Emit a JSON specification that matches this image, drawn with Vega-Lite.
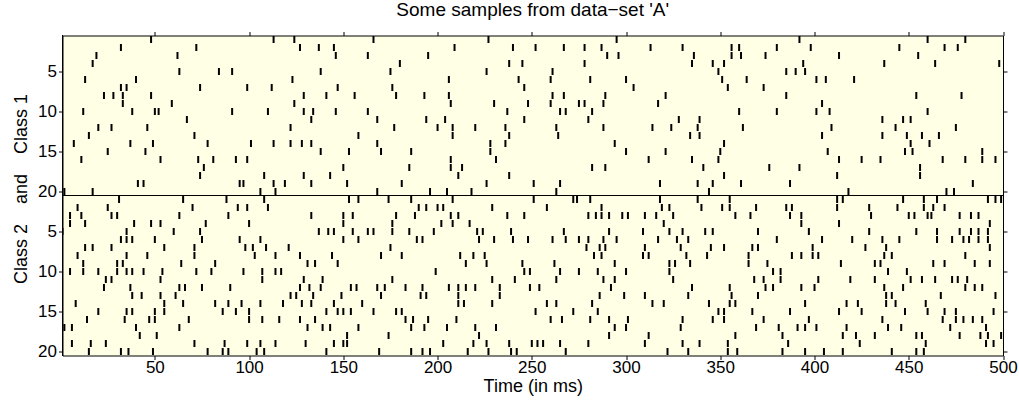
{
"$schema": "https://vega.github.io/schema/vega-lite/v6.json",
"width": 940.5, "height": 320,
"autosize": "none",
"padding": {"left": 62.5, "top": 35.5, "right": 16, "bottom": 49.5},
"background": "white",
"title": {"text": "Some samples from data\u2212set 'A'", "font": "Liberation Sans", "fontSize": 19, "fontWeight": "normal", "color": "black", "offset": 11},
"config": {
  "view": {"fill": "#ffffe6", "stroke": "black", "strokeWidth": 1},
  "axis": {"domain": false, "grid": false, "tickColor": "black", "labelColor": "black", "titleColor": "black", "labelFont": "Liberation Sans", "titleFont": "Liberation Sans", "labelFontSize": 17, "titleFontSize": 18, "titleFontWeight": "normal", "tickSize": 4}
},
"data": {"values": [
{"trial":1,"t":48},{"trial":1,"t":113},{"trial":1,"t":124},{"trial":1,"t":166},{"trial":1,"t":227},{"trial":1,"t":295},{"trial":1,"t":392},{"trial":1,"t":460},{"trial":1,"t":480},
{"trial":2,"t":32},{"trial":2,"t":72},{"trial":2,"t":127},{"trial":2,"t":137},{"trial":2,"t":145},{"trial":2,"t":209},{"trial":2,"t":240},{"trial":2,"t":252},{"trial":2,"t":267},{"trial":2,"t":278},{"trial":2,"t":287},{"trial":2,"t":313},{"trial":2,"t":330},{"trial":2,"t":356},{"trial":2,"t":360},{"trial":2,"t":380},{"trial":2,"t":398},{"trial":2,"t":445},{"trial":2,"t":469},{"trial":2,"t":476},
{"trial":3,"t":19},{"trial":3,"t":62},{"trial":3,"t":146},{"trial":3,"t":163},{"trial":3,"t":195},{"trial":3,"t":290},{"trial":3,"t":296},{"trial":3,"t":336},{"trial":3,"t":356},{"trial":3,"t":361},{"trial":3,"t":374},{"trial":3,"t":413},{"trial":3,"t":455},
{"trial":4,"t":17},{"trial":4,"t":180},{"trial":4,"t":238},{"trial":4,"t":245},{"trial":4,"t":278},{"trial":4,"t":335},{"trial":4,"t":346},{"trial":4,"t":352},{"trial":4,"t":394},{"trial":4,"t":437},{"trial":4,"t":464},{"trial":4,"t":498},
{"trial":5,"t":63},{"trial":5,"t":84},{"trial":5,"t":91},{"trial":5,"t":138},{"trial":5,"t":175},{"trial":5,"t":226},{"trial":5,"t":261},{"trial":5,"t":349},{"trial":5,"t":385},{"trial":5,"t":390},{"trial":5,"t":395},
{"trial":6,"t":13},{"trial":6,"t":40},{"trial":6,"t":123},{"trial":6,"t":206},{"trial":6,"t":243},{"trial":6,"t":260},{"trial":6,"t":281},{"trial":6,"t":300},{"trial":6,"t":351},{"trial":6,"t":364},{"trial":6,"t":401},{"trial":6,"t":406},{"trial":6,"t":421},
{"trial":7,"t":32},{"trial":7,"t":35},{"trial":7,"t":74},{"trial":7,"t":99},{"trial":7,"t":112},{"trial":7,"t":147},{"trial":7,"t":176},{"trial":7,"t":246},{"trial":7,"t":304},{"trial":7,"t":354},{"trial":7,"t":373},
{"trial":8,"t":23},{"trial":8,"t":28},{"trial":8,"t":33},{"trial":8,"t":48},{"trial":8,"t":129},{"trial":8,"t":141},{"trial":8,"t":156},{"trial":8,"t":178},{"trial":8,"t":193},{"trial":8,"t":206},{"trial":8,"t":261},{"trial":8,"t":267},{"trial":8,"t":289},{"trial":8,"t":321},{"trial":8,"t":385},{"trial":8,"t":454},{"trial":8,"t":478},
{"trial":9,"t":33},{"trial":9,"t":59},{"trial":9,"t":124},{"trial":9,"t":207},{"trial":9,"t":230},{"trial":9,"t":248},{"trial":9,"t":260},{"trial":9,"t":275},{"trial":9,"t":278},{"trial":9,"t":288},{"trial":9,"t":317},{"trial":9,"t":404},
{"trial":10,"t":12},{"trial":10,"t":38},{"trial":10,"t":50},{"trial":10,"t":52},{"trial":10,"t":91},{"trial":10,"t":110},{"trial":10,"t":129},{"trial":10,"t":134},{"trial":10,"t":146},{"trial":10,"t":163},{"trial":10,"t":237},{"trial":10,"t":265},{"trial":10,"t":268},{"trial":10,"t":282},{"trial":10,"t":360},{"trial":10,"t":380},{"trial":10,"t":401},{"trial":10,"t":408},{"trial":10,"t":460},
{"trial":11,"t":67},{"trial":11,"t":133},{"trial":11,"t":168},{"trial":11,"t":194},{"trial":11,"t":204},{"trial":11,"t":246},{"trial":11,"t":280},{"trial":11,"t":328},{"trial":11,"t":339},{"trial":11,"t":436},{"trial":11,"t":447},{"trial":11,"t":451},
{"trial":12,"t":20},{"trial":12,"t":27},{"trial":12,"t":46},{"trial":12,"t":122},{"trial":12,"t":177},{"trial":12,"t":200},{"trial":12,"t":208},{"trial":12,"t":220},{"trial":12,"t":236},{"trial":12,"t":263},{"trial":12,"t":288},{"trial":12,"t":314},{"trial":12,"t":324},{"trial":12,"t":338},{"trial":12,"t":362},{"trial":12,"t":409},{"trial":12,"t":443},{"trial":12,"t":475},
{"trial":13,"t":15},{"trial":13,"t":71},{"trial":13,"t":158},{"trial":13,"t":208},{"trial":13,"t":238},{"trial":13,"t":264},{"trial":13,"t":334},{"trial":13,"t":339},{"trial":13,"t":404},{"trial":13,"t":436},{"trial":13,"t":449},{"trial":13,"t":457},{"trial":13,"t":466},
{"trial":14,"t":7},{"trial":14,"t":37},{"trial":14,"t":49},{"trial":14,"t":78},{"trial":14,"t":101},{"trial":14,"t":113},{"trial":14,"t":122},{"trial":14,"t":128},{"trial":14,"t":133},{"trial":14,"t":168},{"trial":14,"t":228},{"trial":14,"t":236},{"trial":14,"t":294},{"trial":14,"t":352},{"trial":14,"t":451},{"trial":14,"t":461},
{"trial":15,"t":25},{"trial":15,"t":45},{"trial":15,"t":138},{"trial":15,"t":153},{"trial":15,"t":170},{"trial":15,"t":186},{"trial":15,"t":228},{"trial":15,"t":300},{"trial":15,"t":321},{"trial":15,"t":350},{"trial":15,"t":407},{"trial":15,"t":448},{"trial":15,"t":452},{"trial":15,"t":489},
{"trial":16,"t":11},{"trial":16,"t":53},{"trial":16,"t":73},{"trial":16,"t":81},{"trial":16,"t":93},{"trial":16,"t":99},{"trial":16,"t":207},{"trial":16,"t":231},{"trial":16,"t":312},{"trial":16,"t":335},{"trial":16,"t":349},{"trial":16,"t":413},{"trial":16,"t":425},{"trial":16,"t":435},{"trial":16,"t":468},{"trial":16,"t":480},{"trial":16,"t":489},{"trial":16,"t":496},
{"trial":17,"t":76},{"trial":17,"t":150},{"trial":17,"t":185},{"trial":17,"t":207},{"trial":17,"t":213},{"trial":17,"t":282},{"trial":17,"t":289},{"trial":17,"t":341},{"trial":17,"t":376},{"trial":17,"t":392},{"trial":17,"t":456},
{"trial":18,"t":74},{"trial":18,"t":108},{"trial":18,"t":129},{"trial":18,"t":143},{"trial":18,"t":211},{"trial":18,"t":238},{"trial":18,"t":352},{"trial":18,"t":412},{"trial":18,"t":456},
{"trial":19,"t":41},{"trial":19,"t":44},{"trial":19,"t":95},{"trial":19,"t":97},{"trial":19,"t":113},{"trial":19,"t":119},{"trial":19,"t":133},{"trial":19,"t":152},{"trial":19,"t":181},{"trial":19,"t":226},{"trial":19,"t":251},{"trial":19,"t":265},{"trial":19,"t":318},{"trial":19,"t":338},{"trial":19,"t":346},{"trial":19,"t":361},{"trial":19,"t":387},{"trial":19,"t":484},
{"trial":20,"t":2},{"trial":20,"t":17},{"trial":20,"t":106},{"trial":20,"t":114},{"trial":20,"t":168},{"trial":20,"t":196},{"trial":20,"t":205},{"trial":20,"t":218},{"trial":20,"t":263},{"trial":20,"t":344},{"trial":20,"t":418},{"trial":20,"t":470},{"trial":20,"t":474},
{"trial":21,"t":31},{"trial":21,"t":65},{"trial":21,"t":88},{"trial":21,"t":108},{"trial":21,"t":153},{"trial":21,"t":158},{"trial":21,"t":174},{"trial":21,"t":186},{"trial":21,"t":208},{"trial":21,"t":251},{"trial":21,"t":272},{"trial":21,"t":274},{"trial":21,"t":281},{"trial":21,"t":318},{"trial":21,"t":338},{"trial":21,"t":355},{"trial":21,"t":412},{"trial":21,"t":415},{"trial":21,"t":447},{"trial":21,"t":458},{"trial":21,"t":465},{"trial":21,"t":492},{"trial":21,"t":496},{"trial":21,"t":499},
{"trial":22,"t":9},{"trial":22,"t":25},{"trial":22,"t":70},{"trial":22,"t":94},{"trial":22,"t":99},{"trial":22,"t":110},{"trial":22,"t":190},{"trial":22,"t":194},{"trial":22,"t":200},{"trial":22,"t":203},{"trial":22,"t":229},{"trial":22,"t":258},{"trial":22,"t":287},{"trial":22,"t":319},{"trial":22,"t":323},{"trial":22,"t":340},{"trial":22,"t":351},{"trial":22,"t":355},{"trial":22,"t":369},{"trial":22,"t":385},{"trial":22,"t":388},{"trial":22,"t":412},{"trial":22,"t":429},{"trial":22,"t":444},{"trial":22,"t":458},{"trial":22,"t":463},{"trial":22,"t":469},
{"trial":23,"t":5},{"trial":23,"t":11},{"trial":23,"t":27},{"trial":23,"t":30},{"trial":23,"t":63},{"trial":23,"t":89},{"trial":23,"t":133},{"trial":23,"t":150},{"trial":23,"t":155},{"trial":23,"t":178},{"trial":23,"t":188},{"trial":23,"t":207},{"trial":23,"t":211},{"trial":23,"t":237},{"trial":23,"t":246},{"trial":23,"t":280},{"trial":23,"t":284},{"trial":23,"t":287},{"trial":23,"t":291},{"trial":23,"t":298},{"trial":23,"t":301},{"trial":23,"t":310},{"trial":23,"t":316},{"trial":23,"t":325},{"trial":23,"t":358},{"trial":23,"t":366},{"trial":23,"t":387},{"trial":23,"t":393},{"trial":23,"t":430},{"trial":23,"t":450},{"trial":23,"t":453},{"trial":23,"t":460},{"trial":23,"t":462},{"trial":23,"t":477},{"trial":23,"t":483},{"trial":23,"t":487},
{"trial":24,"t":5},{"trial":24,"t":13},{"trial":24,"t":39},{"trial":24,"t":48},{"trial":24,"t":53},{"trial":24,"t":77},{"trial":24,"t":100},{"trial":24,"t":150},{"trial":24,"t":176},{"trial":24,"t":202},{"trial":24,"t":208},{"trial":24,"t":217},{"trial":24,"t":320},{"trial":24,"t":393},{"trial":24,"t":413},{"trial":24,"t":493},
{"trial":25,"t":1},{"trial":25,"t":35},{"trial":25,"t":60},{"trial":25,"t":74},{"trial":25,"t":137},{"trial":25,"t":142},{"trial":25,"t":145},{"trial":25,"t":155},{"trial":25,"t":163},{"trial":25,"t":166},{"trial":25,"t":176},{"trial":25,"t":185},{"trial":25,"t":198},{"trial":25,"t":221},{"trial":25,"t":224},{"trial":25,"t":239},{"trial":25,"t":267},{"trial":25,"t":291},{"trial":25,"t":309},{"trial":25,"t":323},{"trial":25,"t":330},{"trial":25,"t":342},{"trial":25,"t":346},{"trial":25,"t":370},{"trial":25,"t":397},{"trial":25,"t":429},{"trial":25,"t":454},{"trial":25,"t":465},{"trial":25,"t":477},{"trial":25,"t":483},{"trial":25,"t":487},{"trial":25,"t":492},
{"trial":26,"t":32},{"trial":26,"t":35},{"trial":26,"t":38},{"trial":26,"t":50},{"trial":26,"t":75},{"trial":26,"t":95},{"trial":26,"t":106},{"trial":26,"t":150},{"trial":26,"t":158},{"trial":26,"t":189},{"trial":26,"t":192},{"trial":26,"t":222},{"trial":26,"t":230},{"trial":26,"t":240},{"trial":26,"t":248},{"trial":26,"t":261},{"trial":26,"t":268},{"trial":26,"t":275},{"trial":26,"t":280},{"trial":26,"t":288},{"trial":26,"t":295},{"trial":26,"t":317},{"trial":26,"t":327},{"trial":26,"t":333},{"trial":26,"t":380},{"trial":26,"t":404},{"trial":26,"t":420},{"trial":26,"t":436},{"trial":26,"t":445},{"trial":26,"t":465},{"trial":26,"t":473},{"trial":26,"t":479},{"trial":26,"t":482},{"trial":26,"t":487},{"trial":26,"t":492},
{"trial":27,"t":13},{"trial":27,"t":17},{"trial":27,"t":27},{"trial":27,"t":55},{"trial":27,"t":71},{"trial":27,"t":98},{"trial":27,"t":102},{"trial":27,"t":109},{"trial":27,"t":121},{"trial":27,"t":175},{"trial":27,"t":279},{"trial":27,"t":286},{"trial":27,"t":289},{"trial":27,"t":310},{"trial":27,"t":329},{"trial":27,"t":345},{"trial":27,"t":352},{"trial":27,"t":367},{"trial":27,"t":370},{"trial":27,"t":399},{"trial":27,"t":427},{"trial":27,"t":438},{"trial":27,"t":493},
{"trial":28,"t":9},{"trial":28,"t":35},{"trial":28,"t":46},{"trial":28,"t":71},{"trial":28,"t":103},{"trial":28,"t":114},{"trial":28,"t":127},{"trial":28,"t":144},{"trial":28,"t":170},{"trial":28,"t":181},{"trial":28,"t":212},{"trial":28,"t":219},{"trial":28,"t":225},{"trial":28,"t":283},{"trial":28,"t":287},{"trial":28,"t":309},{"trial":28,"t":312},{"trial":28,"t":332},{"trial":28,"t":343},{"trial":28,"t":365},{"trial":28,"t":388},{"trial":28,"t":393},{"trial":28,"t":399},{"trial":28,"t":402},{"trial":28,"t":437},{"trial":28,"t":441},{"trial":28,"t":480},
{"trial":29,"t":12},{"trial":29,"t":30},{"trial":29,"t":33},{"trial":29,"t":64},{"trial":29,"t":82},{"trial":29,"t":131},{"trial":29,"t":135},{"trial":29,"t":147},{"trial":29,"t":215},{"trial":29,"t":226},{"trial":29,"t":245},{"trial":29,"t":262},{"trial":29,"t":294},{"trial":29,"t":323},{"trial":29,"t":326},{"trial":29,"t":334},{"trial":29,"t":365},{"trial":29,"t":375},{"trial":29,"t":414},{"trial":29,"t":432},{"trial":29,"t":435},{"trial":29,"t":463},{"trial":29,"t":469},{"trial":29,"t":485},{"trial":29,"t":493},
{"trial":30,"t":5},{"trial":30,"t":12},{"trial":30,"t":20},{"trial":30,"t":30},{"trial":30,"t":35},{"trial":30,"t":38},{"trial":30,"t":44},{"trial":30,"t":54},{"trial":30,"t":72},{"trial":30,"t":80},{"trial":30,"t":97},{"trial":30,"t":107},{"trial":30,"t":114},{"trial":30,"t":117},{"trial":30,"t":199},{"trial":30,"t":246},{"trial":30,"t":249},{"trial":30,"t":265},{"trial":30,"t":275},{"trial":30,"t":285},{"trial":30,"t":300},{"trial":30,"t":323},{"trial":30,"t":378},{"trial":30,"t":382},{"trial":30,"t":439},{"trial":30,"t":449},
{"trial":31,"t":24},{"trial":31,"t":27},{"trial":31,"t":53},{"trial":31,"t":107},{"trial":31,"t":129},{"trial":31,"t":139},{"trial":31,"t":176},{"trial":31,"t":229},{"trial":31,"t":241},{"trial":31,"t":263},{"trial":31,"t":288},{"trial":31,"t":294},{"trial":31,"t":325},{"trial":31,"t":368},{"trial":31,"t":373},{"trial":31,"t":382},{"trial":31,"t":402},{"trial":31,"t":419},{"trial":31,"t":432},{"trial":31,"t":451},{"trial":31,"t":457},{"trial":31,"t":464},{"trial":31,"t":473},{"trial":31,"t":476},{"trial":31,"t":481},
{"trial":32,"t":23},{"trial":32,"t":37},{"trial":32,"t":63},{"trial":32,"t":66},{"trial":32,"t":75},{"trial":32,"t":90},{"trial":32,"t":127},{"trial":32,"t":132},{"trial":32,"t":138},{"trial":32,"t":154},{"trial":32,"t":157},{"trial":32,"t":168},{"trial":32,"t":172},{"trial":32,"t":183},{"trial":32,"t":192},{"trial":32,"t":206},{"trial":32,"t":211},{"trial":32,"t":215},{"trial":32,"t":220},{"trial":32,"t":233},{"trial":32,"t":249},{"trial":32,"t":254},{"trial":32,"t":292},{"trial":32,"t":335},{"trial":32,"t":355},{"trial":32,"t":374},{"trial":32,"t":378},{"trial":32,"t":393},{"trial":32,"t":400},{"trial":32,"t":437},{"trial":32,"t":447},{"trial":32,"t":480},{"trial":32,"t":485},{"trial":32,"t":489},
{"trial":33,"t":38},{"trial":33,"t":43},{"trial":33,"t":53},{"trial":33,"t":61},{"trial":33,"t":122},{"trial":33,"t":125},{"trial":33,"t":134},{"trial":33,"t":149},{"trial":33,"t":170},{"trial":33,"t":191},{"trial":33,"t":194},{"trial":33,"t":211},{"trial":33,"t":233},{"trial":33,"t":286},{"trial":33,"t":299},{"trial":33,"t":310},{"trial":33,"t":333},{"trial":33,"t":356},{"trial":33,"t":370},{"trial":33,"t":438},{"trial":33,"t":441},{"trial":33,"t":467},{"trial":33,"t":496},
{"trial":34,"t":8},{"trial":34,"t":55},{"trial":34,"t":65},{"trial":34,"t":82},{"trial":34,"t":89},{"trial":34,"t":96},{"trial":34,"t":106},{"trial":34,"t":118},{"trial":34,"t":128},{"trial":34,"t":133},{"trial":34,"t":145},{"trial":34,"t":160},{"trial":34,"t":211},{"trial":34,"t":214},{"trial":34,"t":229},{"trial":34,"t":258},{"trial":34,"t":263},{"trial":34,"t":282},{"trial":34,"t":314},{"trial":34,"t":320},{"trial":34,"t":344},{"trial":34,"t":355},{"trial":34,"t":358},{"trial":34,"t":395},{"trial":34,"t":417},{"trial":34,"t":423},{"trial":34,"t":438},{"trial":34,"t":443},{"trial":34,"t":459},
{"trial":35,"t":20},{"trial":35,"t":35},{"trial":35,"t":38},{"trial":35,"t":50},{"trial":35,"t":55},{"trial":35,"t":86},{"trial":35,"t":93},{"trial":35,"t":100},{"trial":35,"t":141},{"trial":35,"t":147},{"trial":35,"t":150},{"trial":35,"t":154},{"trial":35,"t":166},{"trial":35,"t":178},{"trial":35,"t":181},{"trial":35,"t":252},{"trial":35,"t":272},{"trial":35,"t":285},{"trial":35,"t":349},{"trial":35,"t":352},{"trial":35,"t":367},{"trial":35,"t":387},{"trial":35,"t":413},{"trial":35,"t":425},{"trial":35,"t":448},{"trial":35,"t":460},{"trial":35,"t":469},{"trial":35,"t":475},{"trial":35,"t":495},
{"trial":36,"t":14},{"trial":36,"t":34},{"trial":36,"t":47},{"trial":36,"t":50},{"trial":36,"t":68},{"trial":36,"t":100},{"trial":36,"t":107},{"trial":36,"t":116},{"trial":36,"t":127},{"trial":36,"t":135},{"trial":36,"t":183},{"trial":36,"t":187},{"trial":36,"t":195},{"trial":36,"t":210},{"trial":36,"t":260},{"trial":36,"t":266},{"trial":36,"t":281},{"trial":36,"t":291},{"trial":36,"t":301},{"trial":36,"t":330},{"trial":36,"t":346},{"trial":36,"t":352},{"trial":36,"t":373},{"trial":36,"t":397},{"trial":36,"t":436},{"trial":36,"t":468},{"trial":36,"t":475},{"trial":36,"t":479},{"trial":36,"t":484},{"trial":36,"t":489},
{"trial":37,"t":2},{"trial":37,"t":6},{"trial":37,"t":40},{"trial":37,"t":63},{"trial":37,"t":131},{"trial":37,"t":139},{"trial":37,"t":143},{"trial":37,"t":158},{"trial":37,"t":186},{"trial":37,"t":193},{"trial":37,"t":205},{"trial":37,"t":220},{"trial":37,"t":231},{"trial":37,"t":294},{"trial":37,"t":300},{"trial":37,"t":329},{"trial":37,"t":369},{"trial":37,"t":381},{"trial":37,"t":391},{"trial":37,"t":395},{"trial":37,"t":401},{"trial":37,"t":417},{"trial":37,"t":439},{"trial":37,"t":446},{"trial":37,"t":472},{"trial":37,"t":491},
{"trial":38,"t":42},{"trial":38,"t":51},{"trial":38,"t":152},{"trial":38,"t":174},{"trial":38,"t":222},{"trial":38,"t":291},{"trial":38,"t":312},{"trial":38,"t":358},{"trial":38,"t":383},{"trial":38,"t":415},{"trial":38,"t":422},{"trial":38,"t":432},{"trial":38,"t":454},{"trial":38,"t":457},{"trial":38,"t":477},{"trial":38,"t":488},{"trial":38,"t":492},{"trial":38,"t":499},
{"trial":39,"t":6},{"trial":39,"t":16},{"trial":39,"t":24},{"trial":39,"t":71},{"trial":39,"t":87},{"trial":39,"t":99},{"trial":39,"t":106},{"trial":39,"t":114},{"trial":39,"t":130},{"trial":39,"t":145},{"trial":39,"t":150},{"trial":39,"t":152},{"trial":39,"t":203},{"trial":39,"t":219},{"trial":39,"t":226},{"trial":39,"t":238},{"trial":39,"t":250},{"trial":39,"t":253},{"trial":39,"t":256},{"trial":39,"t":265},{"trial":39,"t":280},{"trial":39,"t":310},{"trial":39,"t":330},{"trial":39,"t":339},{"trial":39,"t":354},{"trial":39,"t":386},{"trial":39,"t":424},{"trial":39,"t":459},{"trial":39,"t":491},{"trial":39,"t":495},
{"trial":40,"t":15},{"trial":40,"t":32},{"trial":40,"t":36},{"trial":40,"t":49},{"trial":40,"t":78},{"trial":40,"t":86},{"trial":40,"t":89},{"trial":40,"t":104},{"trial":40,"t":108},{"trial":40,"t":141},{"trial":40,"t":169},{"trial":40,"t":186},{"trial":40,"t":192},{"trial":40,"t":196},{"trial":40,"t":216},{"trial":40,"t":227},{"trial":40,"t":239},{"trial":40,"t":242},{"trial":40,"t":268},{"trial":40,"t":322},{"trial":40,"t":333},{"trial":40,"t":354},{"trial":40,"t":359},{"trial":40,"t":383},{"trial":40,"t":395},{"trial":40,"t":405},{"trial":40,"t":415},{"trial":40,"t":441},{"trial":40,"t":454},{"trial":40,"t":458}
]},
"layer": [
  {"mark": {"type": "tick", "orient": "vertical", "thickness": 2, "size": 7, "color": "black", "opacity": 1, "clip": true},
   "encoding": {
     "x": {"field": "t", "type": "quantitative", "scale": {"domain": [1, 500], "nice": false, "zero": false},
           "axis": {"orient": "bottom", "values": [50,100,150,200,250,300,350,400,450,500], "title": "Time (in ms)", "labelPadding": 0, "titlePadding": 2, "labelFlush": false}},
     "y": {"field": "trial", "type": "quantitative", "scale": {"domain": [0.5, 40.5], "reverse": true, "nice": false, "zero": false},
           "axis": {"orient": "left", "values": [5,10,15,20,25,30,35,40], "labelExpr": "datum.value > 20 ? datum.value - 20 : datum.value", "title": "Class 2\u00a0\u00a0\u00a0\u00a0and\u00a0\u00a0\u00a0\u00a0Class 1", "titlePadding": 7, "labelPadding": 2, "labelFlush": false, "titleY": 153}}
   }},
  {"mark": {"type": "rule", "color": "black", "strokeWidth": 1.2},
   "encoding": {"y": {"datum": 20.5, "type": "quantitative", "axis": {"orient": "right", "values": [5,10,15,20,25,30,35,40], "labels": false, "title": null}}}},
  {"mark": {"type": "rule", "color": "black", "strokeWidth": 1},
   "encoding": {"x": {"datum": 1, "type": "quantitative", "axis": {"orient": "top", "values": [50,100,150,200,250,300,350,400,450,500], "labels": false, "title": null}}}}
],
"resolve": {"axis": {"x": "independent", "y": "independent"}}
}
